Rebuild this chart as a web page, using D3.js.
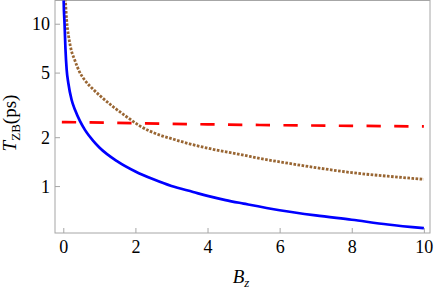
<!DOCTYPE html>
<html>
<head>
<meta charset="utf-8">
<script src="https://cdn.jsdelivr.net/npm/d3@7"></script>
</head>
<body style="margin:0; background:#fff">
<svg id="chart" width="436" height="289"></svg>
<script>
// Data (B_z vs T_ZB in ps)
const blueX = [0, 0.01, 0.035, 0.06, 0.094, 0.14, 0.23, 0.33, 0.46, 0.6, 0.83, 1, 1.5, 2, 2.5, 3, 3.6, 4, 4.5, 5, 6, 7, 8, 9, 10];
const blueY = [20, 14, 10, 7, 5.2, 4.3, 3.4, 2.93, 2.52, 2.22, 1.9, 1.73, 1.42, 1.23, 1.1, 1.0, 0.92, 0.87, 0.82, 0.78, 0.71, 0.66, 0.62, 0.58, 0.55];

const brownX = [0.04, 0.06, 0.094, 0.15, 0.2, 0.32, 0.46, 0.6, 0.8, 1.02, 1.39, 1.76, 2.12, 2.68, 3, 3.5, 4.07, 5, 5.45, 6, 7, 8, 9, 10];
const brownY = [18, 14, 10.5, 8.3, 7.2, 5.95, 5.0, 4.48, 4.0, 3.6, 3.07, 2.67, 2.35, 2.06, 1.96, 1.82, 1.70, 1.55, 1.48, 1.41, 1.30, 1.21, 1.15, 1.10];

const redX = [-0.04, 2, 4, 6, 8, 10];
const redY = [2.48, 2.44, 2.40, 2.37, 2.35, 2.33];

const xTicks = [0, 2, 4, 6, 8, 10];
const yTicks = [1, 2, 5, 10];

const serif = 'Liberation Serif';

// Plot frame in pixels
const frameL = 55, frameR = 430, frameT = 0.5, frameB = 233;

const svg = d3.select('#chart');

const x = d3.scaleLinear().domain([-0.23, 10.17]).range([frameL, frameR]);
const y = d3.scaleLog().domain([0.514, 13.9]).range([frameB, frameT]);

svg.append('clipPath').attr('id', 'clip')
  .append('rect')
  .attr('x', frameL).attr('y', frameT)
  .attr('width', frameR - frameL).attr('height', frameB - frameT);

// Frame
svg.append('rect')
  .attr('x', frameL).attr('y', frameT)
  .attr('width', frameR - frameL).attr('height', frameB - frameT)
  .attr('fill', 'none')
  .attr('stroke', '#a6a6a6')
  .attr('stroke-width', 1);

// Ticks (inside) + labels
const xAxis = d3.axisBottom(x).tickValues(xTicks).tickSize(-5).tickFormat(d3.format('d'));
const yAxis = d3.axisLeft(y).tickValues(yTicks).tickSize(-5).tickPadding(5).tickFormat(d3.format('d'));

const gx = svg.append('g').attr('transform', `translate(0,${frameB})`).call(xAxis);
const gy = svg.append('g').attr('transform', `translate(${frameL},0)`).call(yAxis);

[gx, gy].forEach(g => {
  g.attr('font-family', null).attr('font-size', null);
  g.select('.domain').remove();
  g.selectAll('.tick line').attr('stroke', '#a6a6a6');
  g.selectAll('.tick text')
    .attr('font-family', serif)
    .attr('font-size', 18)
    .attr('fill', '#000');
});
gx.selectAll('.tick text').attr('dy', '0.71em').attr('y', 7);
gy.selectAll('.tick text').attr('dy', '0.34em');

// Curves
const line = d3.line().x(d => x(d[0])).y(d => y(d[1])).curve(d3.curveMonotoneX);
const plot = svg.append('g').attr('clip-path', 'url(#clip)');

plot.append('path')
  .datum(brownX.map((v, i) => [v, brownY[i]]))
  .attr('fill', 'none')
  .attr('stroke', '#996633')
  .attr('stroke-width', 2.8)
  .attr('stroke-dasharray', '2.6,1.5')
  .attr('d', line);

plot.append('path')
  .datum(redX.map((v, i) => [v, redY[i]]))
  .attr('fill', 'none')
  .attr('stroke', '#ff0000')
  .attr('stroke-width', 2.7)
  .attr('stroke-dasharray', '14.3,13.4')
  .attr('d', line);

plot.append('path')
  .datum(blueX.map((v, i) => [v, blueY[i]]))
  .attr('fill', 'none')
  .attr('stroke', '#0000ff')
  .attr('stroke-width', 2.7)
  .attr('d', line);

// Axis titles
const xl = svg.append('text')
  .attr('x', 241)
  .attr('y', 283)
  .attr('text-anchor', 'middle')
  .attr('font-family', serif)
  .attr('font-size', 19);
xl.append('tspan').attr('font-family', serif).attr('font-style', 'italic').text('B');
xl.append('tspan').attr('font-family', serif).attr('font-style', 'italic').attr('font-size', 13).attr('dy', 4).text('z');

const yl = svg.append('text')
  .attr('transform', 'translate(16,123) rotate(-90)')
  .attr('text-anchor', 'middle')
  .attr('font-family', serif)
  .attr('font-size', 19);
yl.append('tspan').attr('font-family', serif).attr('font-style', 'italic').text('T');
yl.append('tspan').attr('font-family', serif).attr('font-size', 13).attr('dy', 4).text('ZB');
yl.append('tspan').attr('font-family', serif).attr('dy', -4).text('(ps)');
</script>
</body>
</html>
